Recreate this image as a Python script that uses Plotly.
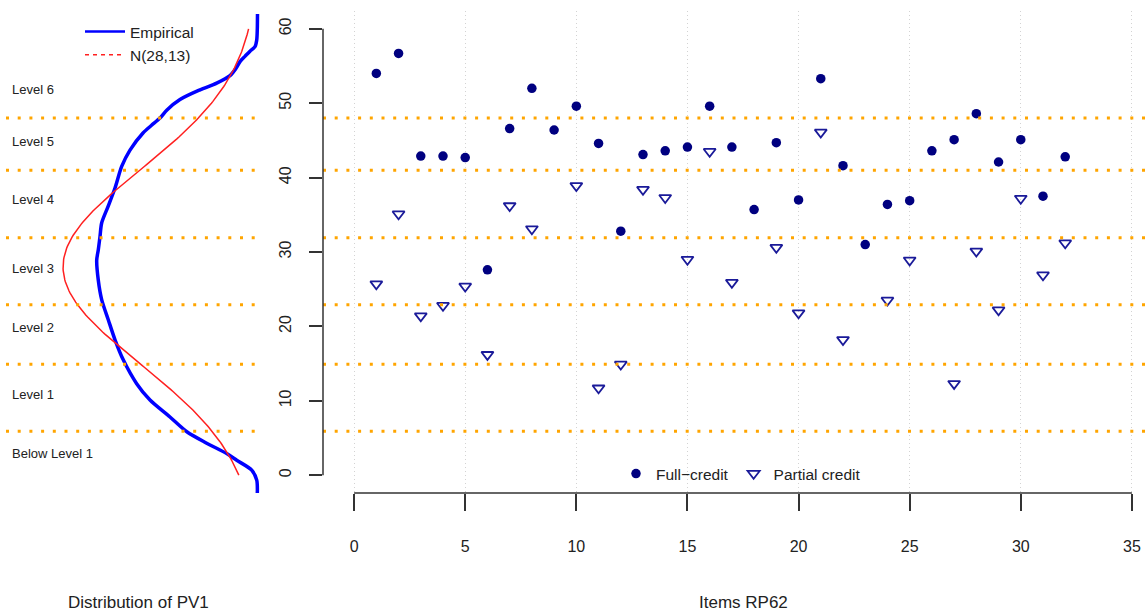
import numpy as np
import plotly.graph_objects as go

# ---------------- data ----------------
items = list(range(1, 33))
full_credit = [54.0, 56.7, 42.9, 42.9, 42.7, 27.6, 46.6, 52.0, 46.4, 49.6,
               44.6, 32.8, 43.1, 43.6, 44.1, 49.6, 44.1, 35.7, 44.7, 37.0,
               53.3, 41.6, 31.0, 36.4, 36.9, 43.6, 45.1, 48.6, 42.1, 45.1,
               37.5, 42.8]
partial_credit = [25.7, 35.1, 21.4, 22.8, 25.4, 16.2, 36.2, 33.1, None, 38.9,
                  11.7, 14.9, 38.4, 37.3, 29.0, 43.5, 25.9, None, 30.6, 21.8,
                  46.1, 18.2, None, 23.5, 28.9, None, 12.3, 30.1, 22.2, 37.2,
                  26.9, 31.2]

# empirical density of PV1 (score value, density)
emp_score = [62.0, 60.0, 58.5, 57.6, 57.0, 56.3, 55.6, 54.7, 53.7, 52.7, 51.8,
             50.5, 49.1, 48.0, 47.0, 46.0, 43.7, 41.5, 38.6, 36.1, 33.9, 32.1,
             30.3, 28.9, 26.2, 23.6, 20.9, 18.2, 15.5, 12.3, 10.1, 7.85, 5.83,
             4.3, 2.9, 2.0, 0.67, -0.67, -2.5]
emp_density = [0.00008, 0.00011, 0.0002, 0.00047, 0.00126, 0.00205, 0.00283,
               0.00346, 0.00441, 0.0065, 0.00913, 0.01228, 0.01433, 0.01543,
               0.0168, 0.0181, 0.02015, 0.02146, 0.02251, 0.02361, 0.02461,
               0.02487, 0.02514, 0.02539, 0.02514, 0.02461, 0.02357, 0.02251,
               0.02121, 0.0191, 0.017, 0.0139, 0.0112, 0.00808, 0.00493,
               0.00335, 0.00099, 0.0002, 0.00011]

# reference normal N(28,13)
norm_mean = 28
norm_sd = 13
norm_from, norm_to = 0, 60

level_cuts = [5.9, 14.9, 22.9, 31.9, 41.0, 48.0]
level_labels = ["Below Level 1", "Level 1", "Level 2", "Level 3", "Level 4",
                "Level 5", "Level 6"]
level_label_y = [2.9, 10.9, 19.9, 27.8, 37.0, 44.9, 51.9]

x_ticks = [0, 5, 10, 15, 20, 25, 30, 35]
y_ticks = [0, 10, 20, 30, 40, 50, 60]

# ---------------- figure ----------------
W, H = 1145, 613
FONT = "Liberation Sans, Arial, Helvetica, sans-serif"
TXT = "#222222"

ns = np.linspace(norm_from, norm_to, 241)
nd = np.exp(-0.5 * ((ns - norm_mean) / norm_sd) ** 2) / (norm_sd * np.sqrt(2 * np.pi))

fig = go.Figure()

# left panel: densities drawn sideways
fig.add_trace(go.Scatter(x=emp_density, y=emp_score, mode="lines",
                         line=dict(color="#0000ff", width=3.5, shape="spline", smoothing=0.8),
                         xaxis="x", yaxis="y", showlegend=False, hoverinfo="skip"))
fig.add_trace(go.Scatter(x=nd, y=ns, mode="lines",
                         line=dict(color="#ff2020", width=1.5),
                         xaxis="x", yaxis="y", showlegend=False, hoverinfo="skip"))
# legend entries of the left panel
fig.add_trace(go.Scatter(x=[None], y=[None], mode="lines", name="Empirical",
                         line=dict(color="#0000ff", width=2.5),
                         xaxis="x", yaxis="y", legend="legend2"))
fig.add_trace(go.Scatter(x=[None], y=[None], mode="lines", name="N(28,13)",
                         line=dict(color="#ff2020", width=1.5, dash="4px,4px"),
                         xaxis="x", yaxis="y", legend="legend2"))

# right panel: items
fig.add_trace(go.Scatter(x=items, y=full_credit, mode="markers", name="Full\u2212credit",
                         marker=dict(symbol="circle", size=9.5, color="#000080"),
                         xaxis="x2", yaxis="y", legend="legend"))
fig.add_trace(go.Scatter(x=items, y=partial_credit, mode="markers", name="Partial credit",
                         marker=dict(symbol="triangle-down-open", size=10.5, color="#1a1a99",
                                     line=dict(width=1.8, color="#1a1a99")),
                         xaxis="x2", yaxis="y", legend="legend"))

shapes = []
for c in level_cuts:
    for xr in ("x domain", "x2 domain"):
        shapes.append(dict(type="line", xref=xr, x0=0, x1=1, yref="y", y0=c, y1=c,
                           line=dict(color="#FFA500", width=3, dash="3px,8.7px"),
                           layer="above"))
# R-style axis lines spanning only first..last tick
shapes.append(dict(type="line", xref="x2", x0=min(x_ticks), x1=max(x_ticks),
                   yref="paper", y0=0, y1=0, line=dict(color="#333333", width=1.5)))
shapes.append(dict(type="line", xref="x2 domain", x0=0, x1=0,
                   yref="y", y0=min(y_ticks), y1=max(y_ticks),
                   line=dict(color="#333333", width=1.5)))

annotations = []
for lab, yv in zip(level_labels, level_label_y):
    annotations.append(dict(text=lab, xref="paper", x=10 / W, xanchor="left",
                            yref="y", y=yv, yanchor="middle", showarrow=False,
                            font=dict(size=13, color=TXT, family=FONT)))
TITLE_Y = -(602 - 493) / 482
annotations.append(dict(text="Distribution of PV1", xref="paper", x=138 / W,
                        xanchor="center", yref="paper", y=TITLE_Y,
                        yanchor="middle", showarrow=False,
                        font=dict(size=17, color=TXT, family=FONT)))
annotations.append(dict(text="Items RP62", xref="x2 domain", x=0.5 * (1163 - 323) / (1145 - 323),
                        xanchor="center", yref="paper", y=TITLE_Y,
                        yanchor="middle", showarrow=False,
                        font=dict(size=17, color=TXT, family=FONT)))

fig.update_layout(
    width=W, height=H,
    margin=dict(l=0, r=0, t=11, b=120),
    paper_bgcolor="white", plot_bgcolor="white",
    font=dict(family=FONT, color=TXT),
    xaxis=dict(domain=[6 / W, 262 / W], range=[0.03967, -0.00063], visible=False,
               anchor="y"),
    xaxis2=dict(domain=[323 / W, 1.0], range=[-1.4, 35.59], anchor="y",
                tickmode="array", tickvals=x_ticks, ticks="outside", ticklen=17,
                tickwidth=1.5, tickcolor="#333333", showline=False, zeroline=False,
                showgrid=True, gridcolor="#d3d3d3", gridwidth=1, griddash="1px,3px",
                tickfont=dict(size=16, color=TXT, family=FONT),
                ticklabelstandoff=22),
    yaxis=dict(domain=[0, 1], range=[-2.4, 62.4], anchor="x2", side="left",
               tickmode="array", tickvals=y_ticks, ticks="outside", ticklen=13,
               tickwidth=1.5, tickcolor="#333333", tickangle=-90,
               showline=False, zeroline=False, showgrid=False,
               tickfont=dict(size=16, color=TXT, family=FONT),
               ticklabelstandoff=12),
    legend=dict(orientation="h", x=616 / W, xanchor="left", y=(493 - 474) / 482,
                yanchor="middle", font=dict(size=15.5, color=TXT, family=FONT),
                bgcolor="rgba(0,0,0,0)", itemclick=False),
    legend2=dict(orientation="v", x=80 / W, xanchor="left", y=(493 - 15) / 482,
                 yanchor="top", font=dict(size=15.5, color=TXT, family=FONT),
                 bgcolor="rgba(0,0,0,0)", tracegroupgap=0, itemwidth=40),
    shapes=shapes,
    annotations=annotations,
)

fig.write_html("out.html",
               config={"displayModeBar": False},
               post_script="document.body.style.margin='0px';"
                           "document.body.style.overflow='hidden';")
